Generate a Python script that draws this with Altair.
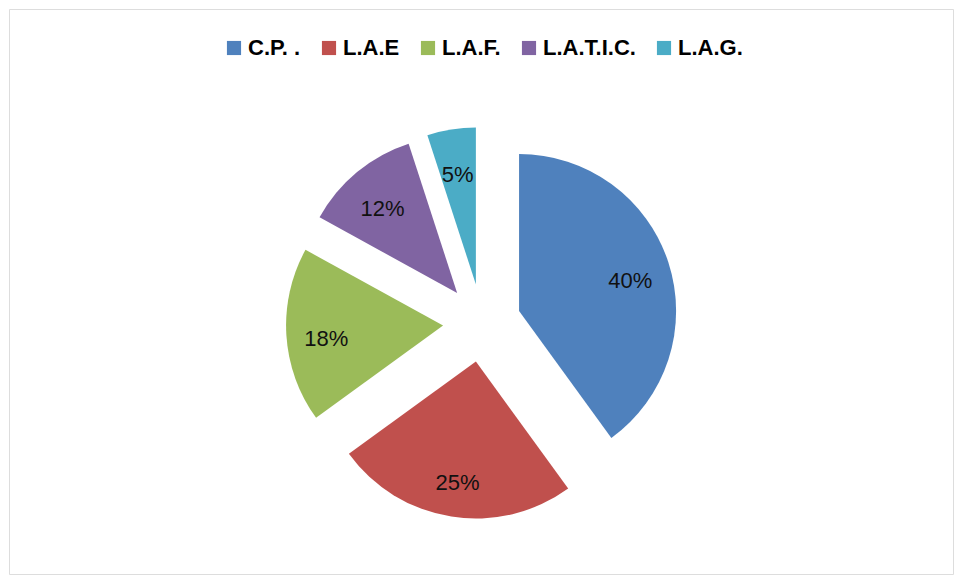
import altair as alt
import pandas as pd

labels = ["C.P. .", "L.A.E", "L.A.F.", "L.A.T.I.C.", "L.A.G."]
values = [40, 25, 18, 12, 5]
colors = ["#4F81BD", "#C0504D", "#9BBB59", "#8064A2", "#4BACC6"]

df = pd.DataFrame({"label": labels, "value": values, "order": list(range(len(labels)))})

# layout constants (pixels in plot area)
CX, CY = 473, 314
EXPLODE = 39
R = 157
LR = 117

base = (
    alt.Chart(df)
    .transform_window(cum="sum(value)", sort=[alt.SortField("order")], frame=[None, 0])
    .transform_joinaggregate(total="sum(value)")
    .transform_calculate(t0="2*PI*(datum.cum - datum.value)/datum.total")
    .transform_calculate(t1="2*PI*datum.cum/datum.total")
    .transform_calculate(mid="(datum.t0 + datum.t1)/2")
    .transform_calculate(cx=f"{CX} + {EXPLODE}*sin(datum.mid)")
    .transform_calculate(cy=f"{CY} - {EXPLODE}*cos(datum.mid)")
    .transform_calculate(lx=f"{CX} + {EXPLODE + LR}*sin(datum.mid)")
    .transform_calculate(ly=f"{CY} - {EXPLODE + LR}*cos(datum.mid)")
    .transform_calculate(pct="format(datum.value/datum.total, '.0%')")
)

arcs = base.mark_arc(radius=R, opacity=1).encode(
    x=alt.X("cx:Q", scale=None, axis=None),
    y=alt.Y("cy:Q", scale=None, axis=None),
    theta=alt.Theta("t0:Q", scale=None),
    theta2="t1:Q",
    color=alt.Color(
        "label:N",
        scale=alt.Scale(domain=labels, range=colors),
        sort=labels,
        legend=alt.Legend(
            title=None,
            orient="none",
            legendX=214,
            legendY=28,
            direction="horizontal",
            columns=5,
            columnPadding=17,
            padding=0,
            symbolType="square",
            symbolSize=200,
            symbolStrokeWidth=0,
            symbolOpacity=1,
            labelOffset=3,
            labelFont="Liberation Sans",
            labelFontSize=22,
            labelFontWeight="bold",
            labelColor="#000000",
            labelBaseline="middle",
            labelLimit=300,
        ),
    ),
)

texts = base.mark_text(
    font="Liberation Sans", fontSize=22, color="#111111", align="center", baseline="middle", dy=6
).encode(
    x=alt.X("lx:Q", scale=None, axis=None),
    y=alt.Y("ly:Q", scale=None, axis=None),
    text="pct:N",
)

chart = (
    alt.layer(arcs, texts)
    .properties(width=944, height=565, padding={"left": 1, "top": 1, "right": 1, "bottom": 1}, autosize="none")
    .configure_view(stroke="#8c8c8c", strokeWidth=2)
    .configure(background="white")
)

chart.save("out.html", embed_options={"renderer": "svg", "actions": False})
